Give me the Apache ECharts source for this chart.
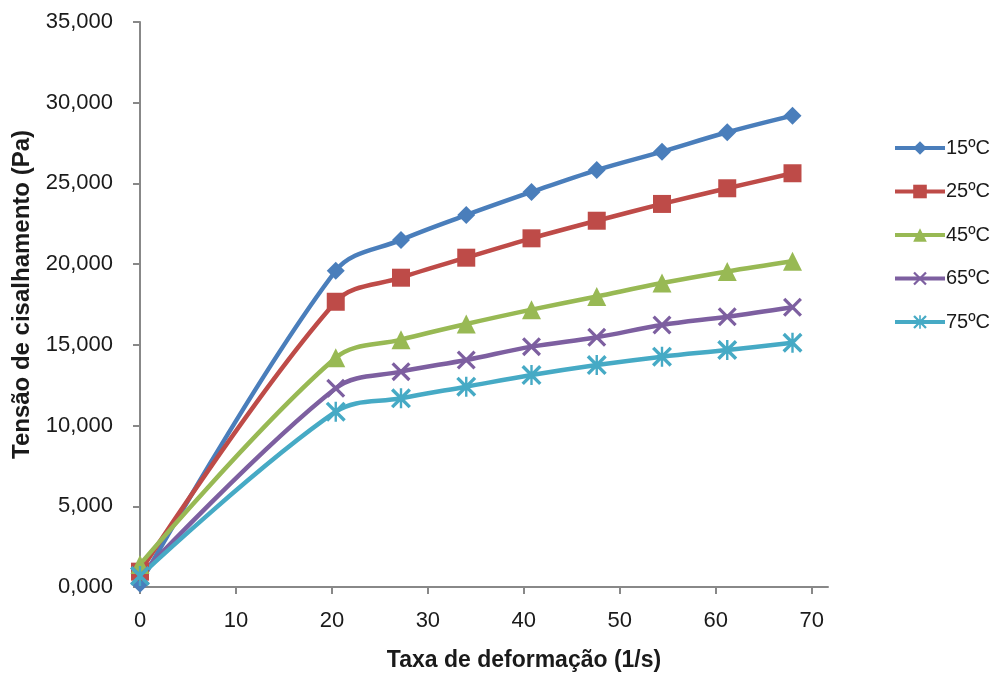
<!DOCTYPE html>
<html>
<head>
<meta charset="utf-8">
<script src="https://cdn.jsdelivr.net/npm/echarts@6/dist/echarts.min.js"></script>
<style>html,body{margin:0;padding:0;background:#fff}#c{width:1000px;height:677px}</style>
</head>
<body>
<div id="c"></div>
<script>
const shearRate = [0, 20.4, 27.2, 34, 40.8, 47.6, 54.4, 61.2, 68];
const seriesNames = ['15ºC', '25ºC', '45ºC', '65ºC', '75ºC'];
const s15 = [0.2, 19.59, 21.50, 23.04, 24.47, 25.83, 26.97, 28.17, 29.20];
const s25 = [0.95, 17.67, 19.16, 20.40, 21.60, 22.69, 23.73, 24.70, 25.63];
const s45 = [1.4, 14.2, 15.32, 16.29, 17.18, 18.0, 18.83, 19.55, 20.18];
const s65 = [0.7, 12.31, 13.34, 14.06, 14.89, 15.47, 16.23, 16.74, 17.33];
const s75 = [0.68, 10.86, 11.69, 12.41, 13.13, 13.75, 14.27, 14.68, 15.13];
const xTicks = [0, 10, 20, 30, 40, 50, 60, 70];
const yTicks = [0, 5, 10, 15, 20, 25, 30, 35];

const colors = ['#4A7EBB', '#BE4B48', '#98B954', '#7D5FA0', '#46AAC5'];
const crossPath = 'path://M0,1.2 L1.2,0 L10,8.8 L8.8,10 Z M8.8,0 L10,1.2 L1.2,10 L0,8.8 Z';
const starPath = 'path://M0,1.2 L1.2,0 L10,8.8 L8.8,10 Z M8.8,0 L10,1.2 L1.2,10 L0,8.8 Z M4.4,0 L5.6,0 L5.6,10 L4.4,10 Z';
const symbols = ['diamond', 'rect', 'triangle', crossPath, starPath];
const sizes = [18, 18, 19, 19, 20];
const allData = [s15, s25, s45, s65, s75];

const font = 'Liberation Sans';
const chart = echarts.init(document.getElementById('c'));
chart.setOption({
  animation: false,
  backgroundColor: '#fff',
  textStyle: { fontFamily: font },
  grid: { left: 140, right: 172, top: 22, bottom: 90 },
  legend: {
    orient: 'vertical',
    left: 893,
    top: 138,
    padding: 0,
    itemWidth: 50,
    itemHeight: 17,
    itemGap: 23.5,
    lineStyle: { width: 4 },
    textStyle: { fontFamily: font, fontSize: 20, color: '#1a1a1a', padding: [0, 0, 0, -4] },
    data: seriesNames
  },
  xAxis: {
    type: 'value',
    min: 0,
    max: 71.7,
    interval: 10,
    name: 'Taxa de deformação (1/s)',
    nameLocation: 'middle',
    nameGap: 62,
    nameTextStyle: { fontFamily: font, fontSize: 23, fontWeight: 'bold', color: '#1a1a1a', padding: [0, 0, 0, 80] },
    axisLine: { lineStyle: { color: '#888', width: 2 } },
    axisTick: { show: true, length: 7, lineStyle: { color: '#888', width: 2 }, customValues: xTicks },
    axisLabel: { fontFamily: font, fontSize: 22, color: '#1a1a1a', margin: 23, customValues: xTicks },
    splitLine: { show: false }
  },
  yAxis: {
    type: 'value',
    min: 0,
    max: 35,
    interval: 5,
    name: 'Tensão de cisalhamento (Pa)',
    nameLocation: 'middle',
    nameGap: 106,
    nameTextStyle: { fontFamily: font, fontSize: 24, fontWeight: 'bold', color: '#1a1a1a', padding: [0, 0, 0, 20] },
    axisLine: { show: true, lineStyle: { color: '#888', width: 2 } },
    axisTick: { show: true, length: 7, lineStyle: { color: '#888', width: 2 }, customValues: yTicks },
    axisLabel: {
      fontFamily: font, fontSize: 22, color: '#1a1a1a', margin: 27,
      customValues: yTicks,
      formatter: v => v.toFixed(3).replace('.', ',')
    },
    splitLine: { show: false }
  },
  series: seriesNames.map((n, i) => ({
    name: n,
    type: 'line',
    smooth: 0.35,
    data: shearRate.map((x, j) => [x, allData[i][j]]),
    symbol: symbols[i],
    symbolSize: sizes[i],
    showAllSymbol: true,
    lineStyle: { color: colors[i], width: 4.5 },
    itemStyle: { color: colors[i], borderWidth: 0, opacity: 1 },
    emphasis: { disabled: true }
  }))
});
</script>
</body>
</html>
